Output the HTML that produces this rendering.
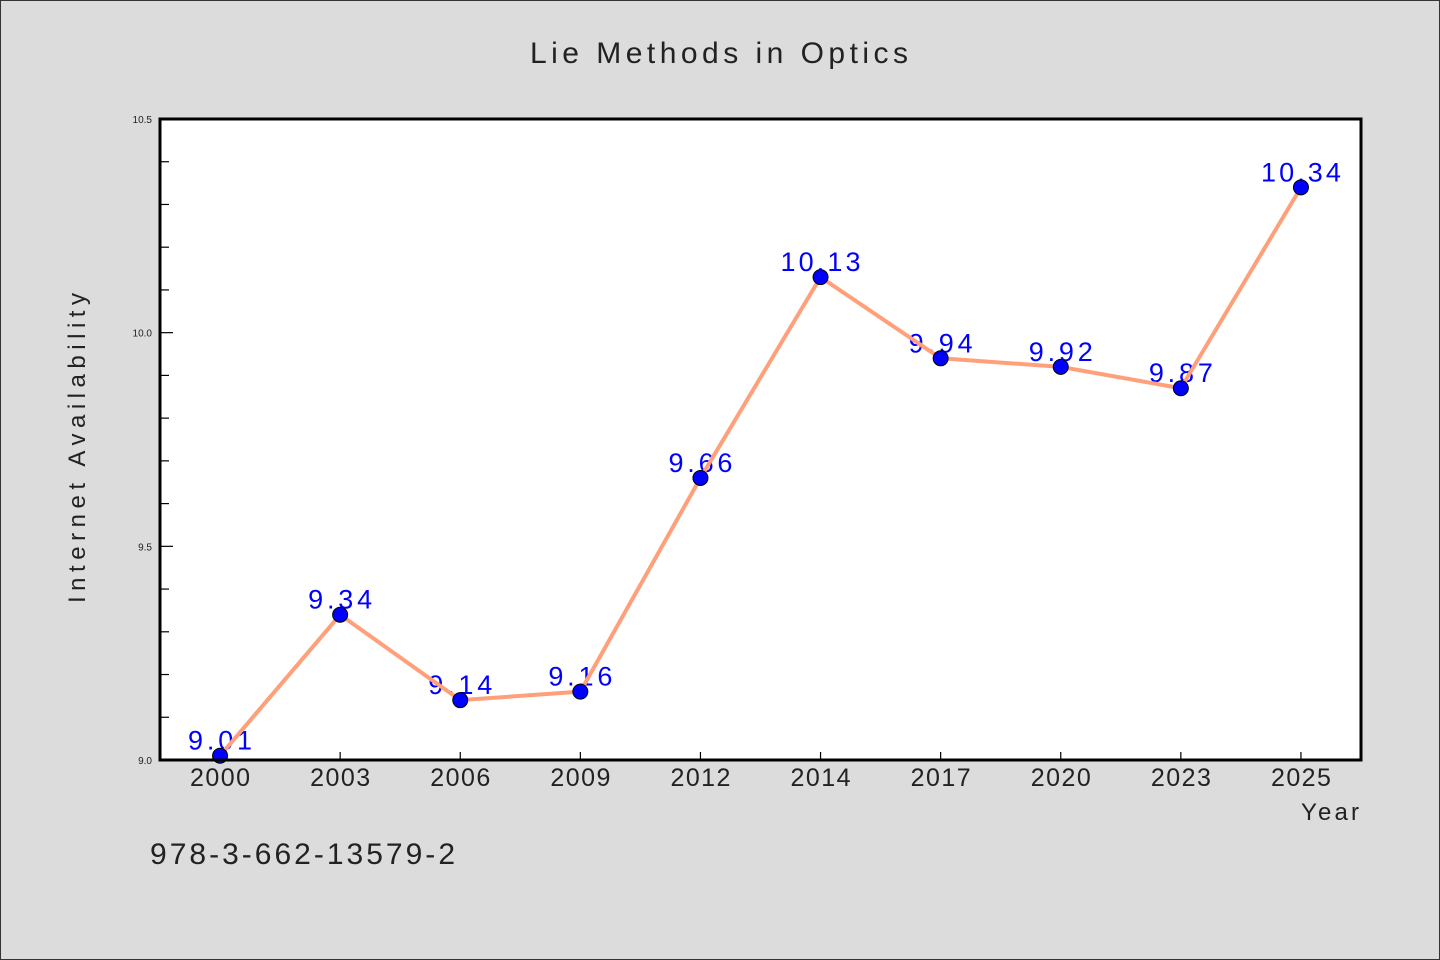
<!DOCTYPE html>
<html><head><meta charset="utf-8"><style>
html,body{margin:0;padding:0;background:#dcdcdc;}
svg{display:block;font-family:"WenQuanYi Zen Hei","Liberation Sans",sans-serif;}
</style></head><body>
<svg id="chart" width="1440" height="960" xmlns="http://www.w3.org/2000/svg">
<rect x="0.5" y="0.5" width="1439" height="959" fill="#dcdcdc" stroke="#333"/>
<text x="719" y="63" text-anchor="middle" font-size="30" fill="#222" textLength="378">Lie Methods in Optics</text>
<rect x="160" y="119" width="1201" height="641" fill="#fff"/>
<g id="axes"></g>
<g id="labels"></g>
<g id="series"></g>
<rect x="160" y="119" width="1201" height="641" fill="none" stroke="#000" stroke-width="3"/>
<text x="1330" y="820" text-anchor="middle" font-size="24" fill="#222" textLength="58">Year</text>
<text transform="translate(85,448) rotate(-90)" text-anchor="middle" font-size="24" fill="#222" textLength="310">Internet Availability</text>
<text x="150" y="864" font-size="30" fill="#222" textLength="305">978-3-662-13579-2</text>
</svg>
<script>
const years = ["2000","2003","2006","2009","2012","2014","2017","2020","2023","2025"];
const values = [9.01,9.34,9.14,9.16,9.66,10.13,9.94,9.92,9.87,10.34];
const yTicks = ["9.0","9.5","10.0","10.5"];
const yMin = 9.0, yMax = 10.5;
const L=160,R=1361,T=119,B=760;
const NS="http://www.w3.org/2000/svg";
function xPos(i){return L+(R-L)/years.length*(i+0.5);}
function yPos(v){return B-(v-yMin)/(yMax-yMin)*(B-T);}
function mk(tag,attrs,parent){const e=document.createElementNS(NS,tag);for(const k in attrs)e.setAttribute(k,attrs[k]);parent.appendChild(e);return e;}
const axes=document.getElementById('axes'),labels=document.getElementById('labels'),series=document.getElementById('series');
// y minor + major ticks
for(let k=0;k<=15;k++){
  const v=yMin+k*0.1;const y=yPos(v);const major=k%5===0;
  const t=mk('line',{x1:L,x2:L+(major?13:9),y1:y,y2:y,stroke:'#000','stroke-width':1.2},axes);
  
  
}
yTicks.forEach(s=>{
  const t=mk('text',{x:L-8,y:yPos(parseFloat(s))+4,'text-anchor':'end','font-size':10,fill:'#222'},axes);
  t.textContent=s;
  
  
});
years.forEach((yr,i)=>{
  const x=xPos(i);
  const t=mk('line',{x1:x,x2:x,y1:B,y2:B-8,stroke:'#000','stroke-width':1.2},axes);
  
  
  const l=mk('text',{x:x,y:B+26,'text-anchor':'middle','font-size':25,fill:'#222',textLength:60},axes);
  l.textContent=yr;
  
  
});
values.forEach((v,i)=>{
  const s=v.toFixed(2);
  const l=mk('text',{x:xPos(i),y:yPos(v)-6,'text-anchor':'middle','font-size':27,fill:'#0000ff',textLength:s.length*16},labels);
  l.textContent=s;
  
  
});
const pl=mk('polyline',{points:values.map((v,i)=>xPos(i)+','+yPos(v)).join(' '),fill:'none',stroke:'#ffa07a','stroke-width':4,'stroke-linejoin':'round'},series);


values.forEach((v,i)=>{
  const c=mk('circle',{cx:xPos(i),cy:yPos(v),r:7.5,fill:'#0000ff',stroke:'#000','stroke-width':1},series);
  
  
});
</script>
</body></html>
